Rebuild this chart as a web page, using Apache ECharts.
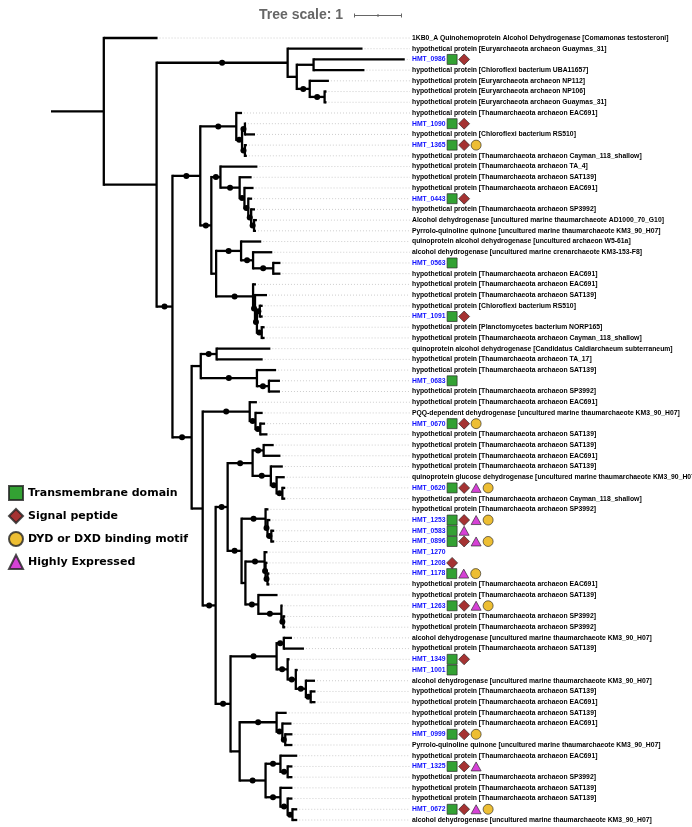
<!DOCTYPE html>
<html>
<head>
<meta charset="utf-8">
<script src="https://cdn.jsdelivr.net/npm/echarts@6/dist/echarts.min.js"></script>
<style>
  html, body { margin: 0; padding: 0; background: #fff; }
  #chart { width: 692px; height: 827px; }
</style>
</head>
<body>
<div id="chart"></div>
<script>
// leaf labels, top to bottom (row index = leaf id used in the newick below)
const leafNames = [
  '1KB0_A Quinohemoprotein Alcohol Dehydrogenase [Comamonas testosteroni]',
  'hypothetical protein [Euryarchaeota archaeon Guaymas_31]',
  'HMT_0986',
  'hypothetical protein [Chloroflexi bacterium UBA11657]',
  'hypothetical protein [Euryarchaeota archaeon NP112]',
  'hypothetical protein [Euryarchaeota archaeon NP106]',
  'hypothetical protein [Euryarchaeota archaeon Guaymas_31]',
  'hypothetical protein [Thaumarchaeota archaeon EAC691]',
  'HMT_1090',
  'hypothetical protein [Chloroflexi bacterium RS510]',
  'HMT_1365',
  'hypothetical protein [Thaumarchaeota archaeon Cayman_118_shallow]',
  'hypothetical protein [Thaumarchaeota archaeon TA_4]',
  'hypothetical protein [Thaumarchaeota archaeon SAT139]',
  'hypothetical protein [Thaumarchaeota archaeon EAC691]',
  'HMT_0443',
  'hypothetical protein [Thaumarchaeota archaeon SP3992]',
  'Alcohol dehydrogenase [uncultured marine thaumarchaeote AD1000_70_G10]',
  'Pyrrolo-quinoline quinone [uncultured marine thaumarchaeote KM3_90_H07]',
  'quinoprotein alcohol dehydrogenase [uncultured archaeon W5-61a]',
  'alcohol dehydrogenase [uncultured marine crenarchaeote KM3-153-F8]',
  'HMT_0563',
  'hypothetical protein [Thaumarchaeota archaeon EAC691]',
  'hypothetical protein [Thaumarchaeota archaeon EAC691]',
  'hypothetical protein [Thaumarchaeota archaeon SAT139]',
  'hypothetical protein [Chloroflexi bacterium RS510]',
  'HMT_1091',
  'hypothetical protein [Planctomycetes bacterium NORP165]',
  'hypothetical protein [Thaumarchaeota archaeon Cayman_118_shallow]',
  'quinoprotein alcohol dehydrogenase [Candidatus Caldiarchaeum subterraneum]',
  'hypothetical protein [Thaumarchaeota archaeon TA_17]',
  'hypothetical protein [Thaumarchaeota archaeon SAT139]',
  'HMT_0683',
  'hypothetical protein [Thaumarchaeota archaeon SP3992]',
  'hypothetical protein [Thaumarchaeota archaeon EAC691]',
  'PQQ-dependent dehydrogenase [uncultured marine thaumarchaeote KM3_90_H07]',
  'HMT_0670',
  'hypothetical protein [Thaumarchaeota archaeon SAT139]',
  'hypothetical protein [Thaumarchaeota archaeon SAT139]',
  'hypothetical protein [Thaumarchaeota archaeon EAC691]',
  'hypothetical protein [Thaumarchaeota archaeon SAT139]',
  'quinoprotein glucose dehydrogenase [uncultured marine thaumarchaeote KM3_90_H07]',
  'HMT_0620',
  'hypothetical protein [Thaumarchaeota archaeon Cayman_118_shallow]',
  'hypothetical protein [Thaumarchaeota archaeon SP3992]',
  'HMT_1253',
  'HMT_0583',
  'HMT_0896',
  'HMT_1270',
  'HMT_1208',
  'HMT_1178',
  'hypothetical protein [Thaumarchaeota archaeon EAC691]',
  'hypothetical protein [Thaumarchaeota archaeon SAT139]',
  'HMT_1263',
  'hypothetical protein [Thaumarchaeota archaeon SP3992]',
  'hypothetical protein [Thaumarchaeota archaeon SP3992]',
  'alcohol dehydrogenase [uncultured marine thaumarchaeote KM3_90_H07]',
  'hypothetical protein [Thaumarchaeota archaeon SAT139]',
  'HMT_1349',
  'HMT_1001',
  'alcohol dehydrogenase [uncultured marine thaumarchaeote KM3_90_H07]',
  'hypothetical protein [Thaumarchaeota archaeon SAT139]',
  'hypothetical protein [Thaumarchaeota archaeon EAC691]',
  'hypothetical protein [Thaumarchaeota archaeon SAT139]',
  'hypothetical protein [Thaumarchaeota archaeon EAC691]',
  'HMT_0999',
  'Pyrrolo-quinoline quinone [uncultured marine thaumarchaeote KM3_90_H07]',
  'hypothetical protein [Thaumarchaeota archaeon EAC691]',
  'HMT_1325',
  'hypothetical protein [Thaumarchaeota archaeon SP3992]',
  'hypothetical protein [Thaumarchaeota archaeon SAT139]',
  'hypothetical protein [Thaumarchaeota archaeon SAT139]',
  'HMT_0672',
  'alcohol dehydrogenase [uncultured marine thaumarchaeote KM3_90_H07]'
];

// leaves carrying each annotation
const transmembrane = [2, 8, 10, 15, 21, 26, 32, 36, 42, 45, 46, 47, 50, 53, 58, 59, 65, 68, 72];
const signalPeptide = [2, 8, 10, 15, 26, 36, 42, 45, 47, 49, 53, 58, 65, 68, 72];
const dydMotif = [10, 36, 42, 45, 47, 50, 53, 65, 72];
const highlyExpressed = [42, 45, 46, 47, 50, 53, 68, 72];

// tree, newick with branch lengths; "*" marks a supported node (black dot)
const cladeC = '(1:1.56,((2:1.90,3:1.06):0.35,(4:0.40,(5:0.04,6:0.04)*:0.31)*:0.27):0.19)*:2.73';
const cladeK = '(7:0.12,((8:0.02,9:0.21)*:0.06,(10:0.04,11:0.04)*:0.06)*:0.12)*:0.75';
const cladeQ = '(12:0.77,(13:0.25,(14:0.19,(15:0.08,(16:0.08,(17:0.06,18:0.04)*:0.06)*:0.06)*:0.08)*:0.10)*:0.40)*:0.19';
const cladeU = '(19:0.42,(20:0.40,(21:0.15,22:0.15)*:0.42)*:0.25)*:0.52';
const cladeX = '(23:0.06,(24:0.25,((25:0.06,26:0.06)*:0.06,(27:0.06,28:0.06)*:0.10)*:0.04)*:0.04)*:0.77';
const cladeAA = '((29:1.12,30:0.96)*:0.33,(31:0.40,(32:0.23,33:0.23)*:0.25)*:1.17):0.19';
const cladeAF = '(34:0.15,(35:0.15,(36:0.10,37:0.15)*:0.10)*:0.12)*:0.98';
const cladeAJ = '((38:0.21,39:0.35)*:0.23,(40:0.25,(41:0.17,(42:0.06,43:0.06)*:0.12)*:0.12)*:0.38)*:0.52';
const cladeAP = '(44:0.06,(45:0.06,(46:0.06,47:0.06)*:0.08)*:0.04)*:0.50';
const cladeAR = '(48:0.06,(49:0.04,(50:0.04,51:0.04)*:0.04)*:0.02)*:0.40';
const cladeAS = '(52:0.40,(53:0.02,(54:0.04,55:0.04)*:0.04)*:0.48)*:0.27';
const cladeAU = '((56:0.17,57:0.42)*:0.15,(58:0.04,(59:0.04,(60:0.19,(61:0.10,62:0.10)*:0.10)*:0.21)*:0.17)*:0.23)*:0.96';
const cladeBB = '(63:0.21,(64:0.19,(65:0.15,66:0.15)*:0.06)*:0.12)*:0.77';
const cladeBD = '((67:0.35,(68:0.10,69:0.10)*:0.15)*:0.31,(70:0.25,(71:0.10,(72:0.10,73:0.10)*:0.10)*:0.15)*:0.31)*:0.54';

const cladeAI = '(' + cladeAU + ',(' + cladeBB + ',' + cladeBD + '):0.19)*:0.31';
const cladeAH = '(' + cladeAJ + ',(' + cladeAP + ',(' + cladeAR + ',' + cladeAS + '):0.08)*:0.29)*:0.25';
const cladeJ = '(' + cladeAA + ',(' + cladeAF + ',(' + cladeAH + ',' + cladeAI + ')*:0.27):0.23)*:0.40';
const cladeI = '(' + cladeK + ',(' + cladeQ + ',(' + cladeU + ',' + cladeX + '):0.10)*:0.23)*:0.58';
const newick = '(0:1.12,(' + cladeC + ',(' + cladeI + ',' + cladeJ + ')*:0.33):1.10):1.10;';

const scaleLength = 1;

const LABEL_X = 7.5; // where the label column starts, in branch-length units
const LABEL_FONT_SIZE = 6.8;
const LABEL_FONT = 'bold ' + LABEL_FONT_SIZE + 'px "Liberation Sans"';
const BRANCH_WIDTH = 2.3;

function parseNewick(s) {
  let i = 0;
  function node() {
    const n = { children: [] };
    if (s[i] === '(') {
      i++;
      n.children.push(node());
      while (s[i] === ',') { i++; n.children.push(node()); }
      i++;
    }
    let name = '';
    while (i < s.length && ':,);'.indexOf(s[i]) < 0) name += s[i++];
    if (n.children.length) n.support = name === '*';
    else n.leaf = +name;
    if (s[i] === ':') {
      i++;
      let num = '';
      while (i < s.length && ',);'.indexOf(s[i]) < 0) num += s[i++];
      n.len = +num;
    }
    return n;
  }
  return node();
}

// flat list: [parentDepth, depth, y, yTop, yBottom, dot, leafId(-1 internal)]
const treeData = [];
function layout(n, parentDepth) {
  n.depth = parentDepth + (n.len || 0);
  if (n.children.length) {
    n.children.forEach(c => layout(c, n.depth));
    const first = n.children[0], last = n.children[n.children.length - 1];
    n.y = (first.y + last.y) / 2;
    treeData.push([parentDepth, n.depth, n.y, first.y, last.y, n.support ? 1 : 0, -1]);
  } else {
    n.y = n.leaf;
    treeData.push([parentDepth, n.depth, n.y, n.y, n.y, 0, n.leaf]);
  }
}
layout(parseNewick(newick), 0);

const measureCtx = document.createElement('canvas').getContext('2d');
function textWidth(s) {
  measureCtx.font = LABEL_FONT;
  return measureCtx.measureText(s).width;
}

// shapes sit after the label in this order
const featureOrder = [transmembrane, signalPeptide, highlyExpressed, dydMotif];
function featureData(list) {
  return list.map(row => {
    const slots = featureOrder.filter(f => f.indexOf(row) >= 0);
    const k = slots.indexOf(list);
    return {
      value: [LABEL_X, row],
      symbolOffset: [1 + textWidth(leafNames[row]) + 6.5 + 12 * k, 0]
    };
  });
}

function renderNode(params, api) {
  const p0 = api.coord([api.value(0), api.value(2)]);
  const p1 = api.coord([api.value(1), api.value(2)]);
  const leaf = api.value(6);
  const kids = [{
    type: 'line',
    shape: { x1: p0[0], y1: p0[1], x2: p1[0], y2: p1[1] },
    style: { stroke: '#000', lineWidth: BRANCH_WIDTH }
  }];
  if (leaf < 0) {
    const t = api.coord([api.value(1), api.value(3)]);
    const b = api.coord([api.value(1), api.value(4)]);
    kids.push({
      type: 'line',
      shape: { x1: t[0], y1: t[1], x2: b[0], y2: b[1] },
      style: { stroke: '#000', lineWidth: BRANCH_WIDTH, lineCap: 'square' }
    });
  } else {
    const e = api.coord([LABEL_X, leaf]);
    kids.push({
      type: 'line',
      shape: { x1: p1[0] + 2, y1: p1[1], x2: e[0] - 1, y2: e[1] },
      style: { stroke: '#cdcdcd', lineWidth: 1, lineDash: [1, 2] },
      z2: -1
    });
    const name = leafNames[leaf];
    kids.push({
      type: 'text',
      style: {
        text: name,
        x: e[0] + 1,
        y: e[1],
        verticalAlign: 'middle',
        align: 'left',
        fill: name.indexOf('HMT_') === 0 ? '#1010ff' : '#000',
        fontSize: LABEL_FONT_SIZE,
        fontWeight: 'bold',
        fontFamily: 'Liberation Sans'
      }
    });
  }
  if (api.value(5)) {
    kids.push({
      type: 'circle',
      shape: { cx: (p0[0] + p1[0]) / 2, cy: p1[1], r: 3 },
      style: { fill: '#000' }
    });
  }
  return { type: 'group', children: kids };
}

const chart = echarts.init(document.getElementById('chart'));
const option = {
  backgroundColor: '#fff',
  animation: false,
  grid: { left: 51, top: 38, width: 360, height: 782 },
  xAxis: { type: 'value', min: 0, max: LABEL_X, show: false },
  yAxis: { type: 'value', min: 0, max: leafNames.length - 1, inverse: true, show: false },
  legend: {
    orient: 'vertical',
    left: 3,
    top: 480,
    itemWidth: 14,
    itemHeight: 14,
    itemGap: 7,
    selectedMode: false,
    data: ['Transmembrane domain', 'Signal peptide', 'DYD or DXD binding motif', 'Highly Expressed'],
    textStyle: { fontFamily: 'DejaVu Sans', fontWeight: 'bold', fontSize: 11, color: '#000' }
  },
  series: [
    {
      type: 'custom',
      name: 'tree',
      renderItem: renderNode,
      data: treeData,
      encode: { x: [0, 1], y: [2, 3, 4] },
      clip: false,
      silent: true,
      z: 2
    },
    {
      type: 'scatter',
      name: 'Transmembrane domain',
      symbol: 'rect',
      symbolSize: 10,
      itemStyle: { color: '#008a00', borderColor: '#222', borderWidth: 0.8 },
      data: featureData(transmembrane),
      silent: true,
      z: 3
    },
    {
      type: 'scatter',
      name: 'Signal peptide',
      symbol: 'diamond',
      symbolSize: [11, 11],
      itemStyle: { color: '#8e0000', borderColor: '#222', borderWidth: 0.8 },
      data: featureData(signalPeptide),
      silent: true,
      z: 3
    },
    {
      type: 'scatter',
      name: 'DYD or DXD binding motif',
      symbol: 'circle',
      symbolSize: 10,
      itemStyle: { color: '#e8ae00', borderColor: '#222', borderWidth: 0.8 },
      data: featureData(dydMotif),
      silent: true,
      z: 3
    },
    {
      type: 'scatter',
      name: 'Highly Expressed',
      symbol: 'triangle',
      symbolSize: [10, 9],
      itemStyle: { color: '#cc11cc', borderColor: '#222', borderWidth: 0.8 },
      data: featureData(highlyExpressed),
      silent: true,
      z: 3
    }
  ]
};
chart.setOption(option);

// tree scale bar
const barStart = 354;
const barLen = chart.convertToPixel({ xAxisIndex: 0 }, scaleLength) - chart.convertToPixel({ xAxisIndex: 0 }, 0);
const barY = 15.5;
chart.setOption({
  graphic: [
    {
      type: 'text',
      x: barStart - 11,
      y: barY,
      style: {
        text: 'Tree scale: ' + scaleLength,
        align: 'right',
        verticalAlign: 'middle',
        fill: '#666',
        fontSize: 14,
        fontWeight: 'bold',
        fontFamily: 'Liberation Sans'
      }
    },
    { type: 'line', shape: { x1: barStart, y1: barY, x2: barStart + barLen, y2: barY }, style: { stroke: '#666', lineWidth: 1 } },
    { type: 'line', shape: { x1: barStart + 0.5, y1: barY - 2, x2: barStart + 0.5, y2: barY + 2 }, style: { stroke: '#666', lineWidth: 1 } },
    { type: 'line', shape: { x1: barStart + barLen / 2, y1: barY - 1.5, x2: barStart + barLen / 2, y2: barY + 1.5 }, style: { stroke: '#666', lineWidth: 1 } },
    { type: 'line', shape: { x1: barStart + barLen - 0.5, y1: barY - 2, x2: barStart + barLen - 0.5, y2: barY + 2 }, style: { stroke: '#666', lineWidth: 1 } }
  ]
});
</script>
</body>
</html>
